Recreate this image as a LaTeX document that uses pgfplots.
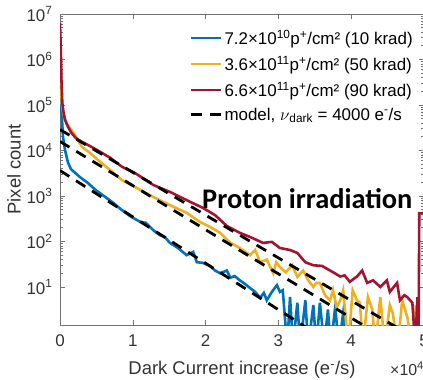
\documentclass[border=0pt]{standalone}
\usepackage{pgfplots}
\pgfplotsset{compat=1.18}
\usepackage{fontspec}
\setmainfont{Liberation Sans}
\newfontfamily\calibri{Carlito}
\definecolor{mblue}{rgb}{0,0.447,0.741}
\definecolor{myellow}{rgb}{0.929,0.694,0.125}
\definecolor{mred}{rgb}{0.635,0.078,0.184}
\definecolor{axgray}{gray}{0.45}
\begin{document}
\begin{tikzpicture}
\begin{axis}[
  width=364bp, height=311bp, scale only axis,
  ymode=log, xmin=0, xmax=5, ymin=1.46, ymax=1e7,
  axis line style={axgray, line width=0.8bp},
  every tick/.style={axgray, line width=0.6bp},
  major tick length=5bp, minor tick length=3bp,
  tick align=inside, tick pos=both,
  xtick={0,1,2,3,4,5}, xticklabels={0,1,2,3,4,5},
  ytick={10,100,1000,10000,100000,1000000,10000000},
  yticklabels={10\textsuperscript{1},10\textsuperscript{2},10\textsuperscript{3},10\textsuperscript{4},10\textsuperscript{5},10\textsuperscript{6},10\textsuperscript{7}},
  ticklabel style={font=\fontsize{17}{20}\selectfont, text=black!80},
  xticklabel style={yshift=-6bp},
  yticklabel style={xshift=-4bp},
  xlabel={Dark Current increase (e\textsuperscript{-}/s)},
  ylabel={Pixel count},
  label style={font=\fontsize{18.5}{22}\selectfont, text=black!80},
  xlabel style={at={(axis description cs:0.5,-0.145)}, anchor=center},
  ylabel style={at={(axis description cs:-0.126,0.5)}, anchor=center},
  legend style={draw=none, fill=none, font=\fontsize{17}{20}\selectfont,
    at={(rel axis cs:0.975,0.955)}, anchor=north east, inner sep=0pt,
    row sep=6bp, cells={anchor=west}},
  legend cell align=left,
  legend image code/.code={\draw[#1] (0bp,0bp) -- (30bp,0bp);},
  clip mode=global,
]
% blue 10 krad
\addplot[mblue, line width=2.6bp] coordinates {
(0,1.0e6)(0.007,3.5e5)(0.014,1.1e5)(0.02,7.8e4)(0.032,3.6e4)(0.041,2.0e4)(0.069,1.02e4)
(0.11,5400)(0.15,3900)(0.21,3200)(0.27,2630)(0.38,1950)(0.49,1350)(0.62,955)(0.73,710)
(0.85,490)(0.96,363)(1.10,270)(1.18,257)(1.28,178)(1.37,138)(1.44,126)(1.51,93)(1.62,72)
(1.74,50)(1.83,59)(1.88,35)(1.96,34)(2.06,29)(2.13,23)(2.20,20)(2.29,23)(2.34,16)(2.40,17.4)
(2.47,14)(2.54,11.7)(2.61,9.5)(2.68,7.8)(2.75,5.8)(2.80,7.4)(2.84,5.1)(2.91,7.8)(2.98,11)
(3.02,7.8)(3.06,8.5)(3.12,0.5)(3.16,6.0)(3.20,0.5)(3.26,4.5)(3.30,0.5)(3.37,5.1)(3.41,0.5)
(3.48,4.0)(3.52,0.5)(3.57,4.5)(3.63,0.5)(3.68,3.2)(3.72,0.5)(3.78,3.6)(3.83,0.5)(3.89,2.7)
(3.94,0.5)(5.0,0.5)
};
\addlegendentry{7.2×10\textsuperscript{10}p\textsuperscript{+}/cm² (10 krad)}
% yellow 50 krad
\addplot[myellow, line width=2.6bp] coordinates {
(0,3.0e6)(0.014,4.2e5)(0.023,1.1e5)(0.041,7.1e4)(0.059,5.5e4)(0.096,3.8e4)(0.16,2.8e4)
(0.22,2.0e4)(0.30,1.2e4)(0.41,8900)(0.52,6200)(0.69,3700)(0.85,2240)(1.03,1580)(1.28,955)
(1.51,630)(1.74,427)(1.92,270)(2.06,210)(2.20,155)(2.34,93)(2.47,72)(2.61,50)(2.68,65)
(2.75,35)(2.84,40)(2.93,20)(2.97,35)(3.02,27.5)(3.10,21)(3.19,30)(3.26,16.6)(3.34,23)
(3.41,14)(3.48,10)(3.52,12.3)(3.57,12.3)(3.64,6.6)(3.71,5.1)(3.75,8.5)(3.80,3.6)(3.85,5.1)
(3.89,8.5)(3.96,0.5)(4.02,8.5)(4.08,5.1)(4.12,4.5)(4.16,0.5)(4.23,6.0)(4.29,3.2)(4.33,0.5)
(4.40,6.0)(4.46,0.5)(4.53,4.0)(4.57,2.7)(4.64,0.5)(4.70,5.1)(4.77,2.2)(4.84,0.5)(4.89,4.0)
(4.94,0.5)(5.0,0.5)
};
\addlegendentry{3.6×10\textsuperscript{11}p\textsuperscript{+}/cm² (50 krad)}
% red 90 krad
\addplot[mred, line width=2.6bp] coordinates {
(0,6.3e6)(0.007,2.7e6)(0.014,9.8e5)(0.02,3.5e5)(0.032,1.1e5)(0.048,7.0e4)(0.069,4.7e4)
(0.11,3.3e4)(0.16,2.4e4)(0.22,1.86e4)(0.30,1.55e4)(0.41,1.26e4)(0.52,1.0e4)(0.69,6900)
(0.85,4400)(1.03,3200)(1.28,1750)(1.51,1230)(1.74,810)(1.96,550)(2.13,380)(2.29,220)
(2.47,155)(2.61,126)(2.79,93)(2.91,98)(3.02,72)(3.16,65)(3.26,56)(3.37,35)(3.48,30)
(3.60,29)(3.71,23)(3.85,17)(3.91,18)(3.98,13)(4.08,17)(4.15,23)(4.22,12.3)(4.30,14)
(4.40,10)(4.49,14)(4.53,7.8)(4.63,12.3)(4.67,5.1)(4.73,6.6)(4.77,6.0)(4.84,4.5)(4.88,0.5)
(4.91,6.0)(4.925,0.5)(4.935,420)(5.0,420)
};
\addlegendentry{6.6×10\textsuperscript{11}p\textsuperscript{+}/cm² (90 krad)}
% models
\addplot[black, line width=2.8bp, dash pattern=on 11bp off 8bp] coordinates {(0,28800)(5,0.575)};
\addlegendentry{model, $\nu$\textsubscript{dark} = 4000 e\textsuperscript{-}/s}
\addplot[black, line width=2.8bp, dash pattern=on 11bp off 8bp, forget plot] coordinates {(0,15800)(5,0.224)};
\addplot[black, line width=2.8bp, dash pattern=on 11bp off 8bp, forget plot] coordinates {(0,3630)(5,0.029)};
\node[anchor=base west, inner sep=0pt, font=\calibri\bfseries\fontsize{28.5}{30}\selectfont] at (rel axis cs:0.390,0.376) {Proton irradiation};
\end{axis}
\node[anchor=west, inner sep=0pt, font=\fontsize{16}{19}\selectfont, text=black!80] at (330bp,-44bp) {×10\textsuperscript{4}};
\pgfresetboundingbox
\path (-60bp,-55bp) rectangle (363bp,325bp);
\end{tikzpicture}
\end{document}
